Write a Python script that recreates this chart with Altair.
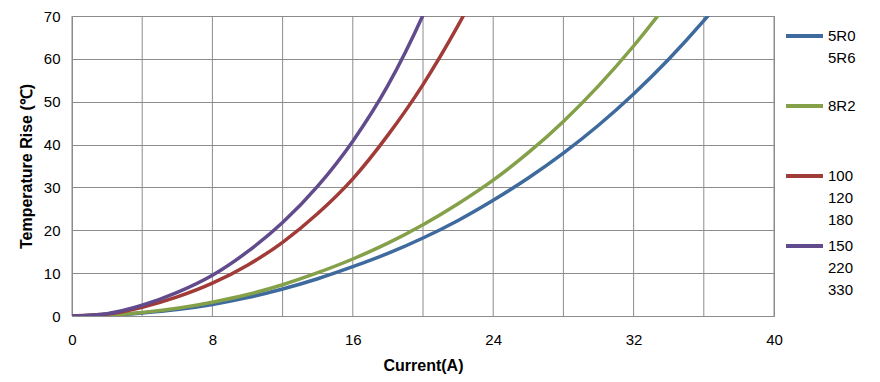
import altair as alt
import pandas as pd

# ---- data ----
series_names = ["5R0/5R6", "8R2", "100/120/180", "150/220/330"]

blue_x = [0, 2, 4, 6, 8, 10, 12, 14, 16, 18, 20, 22, 24, 26, 28, 30, 32, 34, 36, 38]
blue_y = [0, 0.15, 0.7, 1.5, 2.7, 4.3, 6.3, 8.7, 11.5, 14.6, 18.2, 22.3, 27, 32.2, 38, 44.5, 51.8, 59.9, 68.9, 78.8]

green_x = [0, 2, 4, 6, 8, 10, 12, 14, 16, 18, 20, 22, 24, 26, 28, 30, 32, 34]
green_y = [0, 0.2, 0.8, 1.8, 3.2, 5.0, 7.3, 10.1, 13.3, 17.0, 21.3, 26.2, 31.7, 38.1, 45.4, 53.7, 63.0, 73.3]

red_x = [0, 2, 4, 6, 8, 10, 12, 14, 16, 18, 20, 22, 24]
red_y = [0, 0.45, 2.05, 4.45, 7.65, 11.85, 17.2, 23.9, 32, 42.2, 54, 67.8, 83.5]

purple_x = [0, 2, 4, 6, 8, 10, 12, 14, 16, 18, 20, 22]
purple_y = [0, 0.55, 2.5, 5.5, 9.5, 15, 21.8, 30.3, 40.8, 53.8, 70.2, 90]

legend_groups = [["5R0", "5R6"], ["8R2"], ["100", "120", "180"], ["150", "220", "330"]]

x_ticks = [0, 8, 16, 24, 32, 40]
x_grid = [0, 4, 8, 12, 16, 20, 24, 28, 32, 36, 40]
y_ticks = [0, 10, 20, 30, 40, 50, 60, 70]

colors = ["#3E6A9E", "#84A049", "#A13B38", "#614B8C"]

# ---- build tables ----
rows = []
for name, xs, ys in zip(series_names,
                        [blue_x, green_x, red_x, purple_x],
                        [blue_y, green_y, red_y, purple_y]):
    for i, (xv, yv) in enumerate(zip(xs, ys)):
        rows.append({"series": name, "current": xv, "rise": yv, "order": i})
df = pd.DataFrame(rows)

leg_rows = []
for e, (name, labels) in enumerate(zip(series_names, legend_groups)):
    for l, lab in enumerate(labels):
        leg_rows.append({"series": name, "entry": e, "line": l, "label": lab})
leg_df = pd.DataFrame(leg_rows)

FONT = "Liberation Sans"
GRID = "#8C8C8C"
color_scale = alt.Scale(domain=series_names, range=colors)

W, H = 702, 300

grid_df = pd.DataFrame({"g": x_grid})

grid = alt.Chart(grid_df).mark_rule(color=GRID, strokeWidth=1).encode(
    x=alt.X("g:Q", scale=alt.Scale(domain=[0, 40], nice=False))
)

lines = alt.Chart(df).mark_line(strokeWidth=3.5, interpolate="monotone", clip=True).encode(
    x=alt.X("current:Q", scale=alt.Scale(domain=[0, 40], nice=False),
            axis=alt.Axis(values=x_ticks, title="Current(A)", grid=False, ticks=False,
                          domain=False, labelFlush=False, labelFontSize=15, labelFont=FONT,
                          labelColor="#000", labelPadding=16, titleFont=FONT, titleFontSize=16,
                          titleFontWeight="bold", titleColor="#000", titlePadding=10)),
    y=alt.Y("rise:Q", scale=alt.Scale(domain=[0, 70], nice=False),
            axis=alt.Axis(values=y_ticks, title="Temperature Rise (℃)", grid=True,
                          gridColor=GRID, gridOpacity=1, ticks=False, domain=False,
                          labelFlush=False, labelFontSize=15, labelFont=FONT, labelColor="#000",
                          labelPadding=12, titleFont=FONT, titleFontSize=16,
                          titleFontWeight="bold", titleColor="#000", titlePadding=9)),
    color=alt.Color("series:N", scale=color_scale, legend=None),
    order="order:Q",
    detail="series:N",
)

main = alt.layer(grid, lines).properties(
    width=W, height=H, view=alt.ViewBackground(stroke=GRID, strokeWidth=1)
)

leg_base = alt.Chart(leg_df).transform_calculate(
    ypos="datum.entry * 70 + datum.line * 22 + 20"
)
yenc = alt.Y("ypos:Q", scale=alt.Scale(domain=[H, 0], nice=False), axis=None)

leg_lines = leg_base.transform_filter("datum.line == 0").mark_rule(strokeWidth=4).encode(
    x=alt.value(0), x2=alt.value(37), y=yenc,
    color=alt.Color("series:N", scale=color_scale, legend=None),
)
leg_text = leg_base.mark_text(align="left", baseline="middle", font=FONT, fontSize=15,
                              color="#000").encode(
    x=alt.value(42), y=yenc, text="label:N"
)
legend_panel = alt.layer(leg_lines, leg_text).properties(
    width=80, height=H, view=alt.ViewBackground(stroke="transparent", strokeWidth=0)
)

chart = alt.hconcat(main, legend_panel, spacing=12, bounds="flush").properties(
    padding={"left": 9, "top": 0, "right": 0, "bottom": 0}
)

chart.save("out.html", embed_options={"renderer": "svg", "actions": False})
